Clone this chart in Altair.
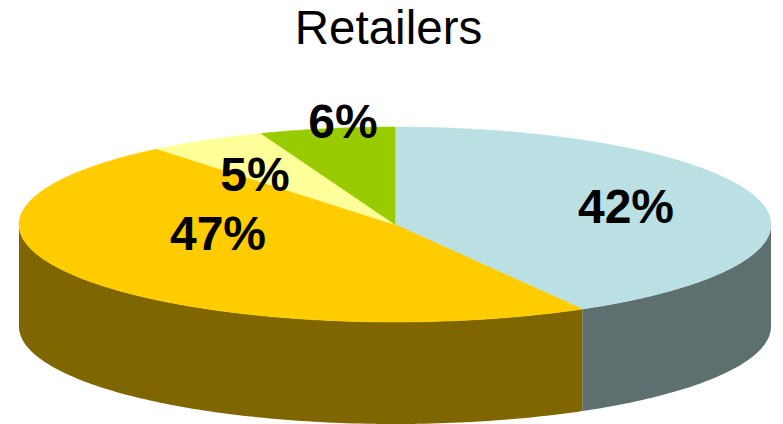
import math
import altair as alt
import pandas as pd

# Share of each retailer group, clockwise from twelve o'clock
segments = ["A", "B", "C", "D"]
shares = [41.7, 47.4, 5.1, 5.8]
top_colors = ["#BAE0E3", "#FFCC00", "#FFFF99", "#99CC00"]
side_colors = ["#5E6F6F", "#806600", "#7F7F4C", "#4C6600"]

WIDTH, HEIGHT = 783, 424
CX, CY, RX, RY, DEPTH = 395, 224.5, 376, 97.5, 102


def rim(angle):
    rad = math.radians(angle)
    return CX + RX * math.sin(rad), CY - RY * math.cos(rad)


def arc_angles(a0, a1):
    n = max(2, int(abs(a1 - a0)) + 1)
    return [a0 + (a1 - a0) * i / (n - 1) for i in range(n)]


top_rows, side_rows = [], []
start = 0.0
for idx, (seg, share) in enumerate(zip(segments, shares)):
    end = start + share * 3.6
    # Top face: a wedge closed through the pie's centre
    pts = [(CX, CY)] + [rim(a) for a in arc_angles(start, end)] + [(CX, CY)]
    top_rows += [
        {"seg": seg, "order": i, "x": x, "y": y, "idx": idx}
        for i, (x, y) in enumerate(pts)
    ]
    # Outer wall: only the front half of the rim (90 to 270 degrees) is visible
    a0, a1 = max(start, 90), min(end, 270)
    if a1 > a0:
        for a in arc_angles(a0, a1):
            x, y = rim(a)
            side_rows.append({"seg": seg, "x": x, "y": y, "y2": y + DEPTH})
    start = end

x_scale = alt.Scale(domain=[0, WIDTH], range=[0, WIDTH], nice=False, zero=False)
y_scale = alt.Scale(domain=[0, HEIGHT], range=[0, HEIGHT], nice=False, zero=False)
x_enc = alt.X("x:Q", scale=x_scale, axis=None)
y_enc = alt.Y("y:Q", scale=y_scale, axis=None)

layers = []

side_df = pd.DataFrame(side_rows)
for seg, color in zip(segments, side_colors):
    part = side_df[side_df.seg == seg]
    if len(part):
        layers.append(
            alt.Chart(part).mark_area(color=color, interpolate="linear").encode(
                x=x_enc, y=y_enc, y2="y2:Q"
            )
        )

top_df = pd.DataFrame(top_rows)
for seg, color in zip(segments, top_colors):
    layers.append(
        alt.Chart(top_df[top_df.seg == seg])
        .mark_line(fill=color, stroke=color, strokeWidth=0.5, filled=True)
        .encode(x=x_enc, y=y_enc, order="order:Q")
    )

# Value labels sit where they were placed by hand on the pie
label_pos = [(626, 208.5), (218, 235.5), (255, 176.5), (343, 123.5)]
for share, (px, py) in zip(shares, label_pos):
    layers.append(
        alt.Chart(pd.DataFrame({"label": [f"{round(share)}%"]}))
        .mark_text(
            font="Liberation Sans", fontSize=48, fontWeight="bold", color="black",
            align="center", baseline="middle",
        )
        .encode(x=alt.value(px), y=alt.value(py), text="label:N")
    )

layers.append(
    alt.Chart(pd.DataFrame({"label": ["Retailers"]}))
    .mark_text(
        font="Liberation Sans", fontSize=47.5, color="black",
        align="center", baseline="middle",
    )
    .encode(x=alt.value(388.5), y=alt.value(30), text="label:N")
)

chart = (
    alt.layer(*layers)
    .properties(width=WIDTH, height=HEIGHT, padding=0, autosize=alt.AutoSizeParams(type="none"))
    .configure_view(stroke=None)
)

chart.save("out.html", embed_options={"renderer": "svg", "actions": False})
